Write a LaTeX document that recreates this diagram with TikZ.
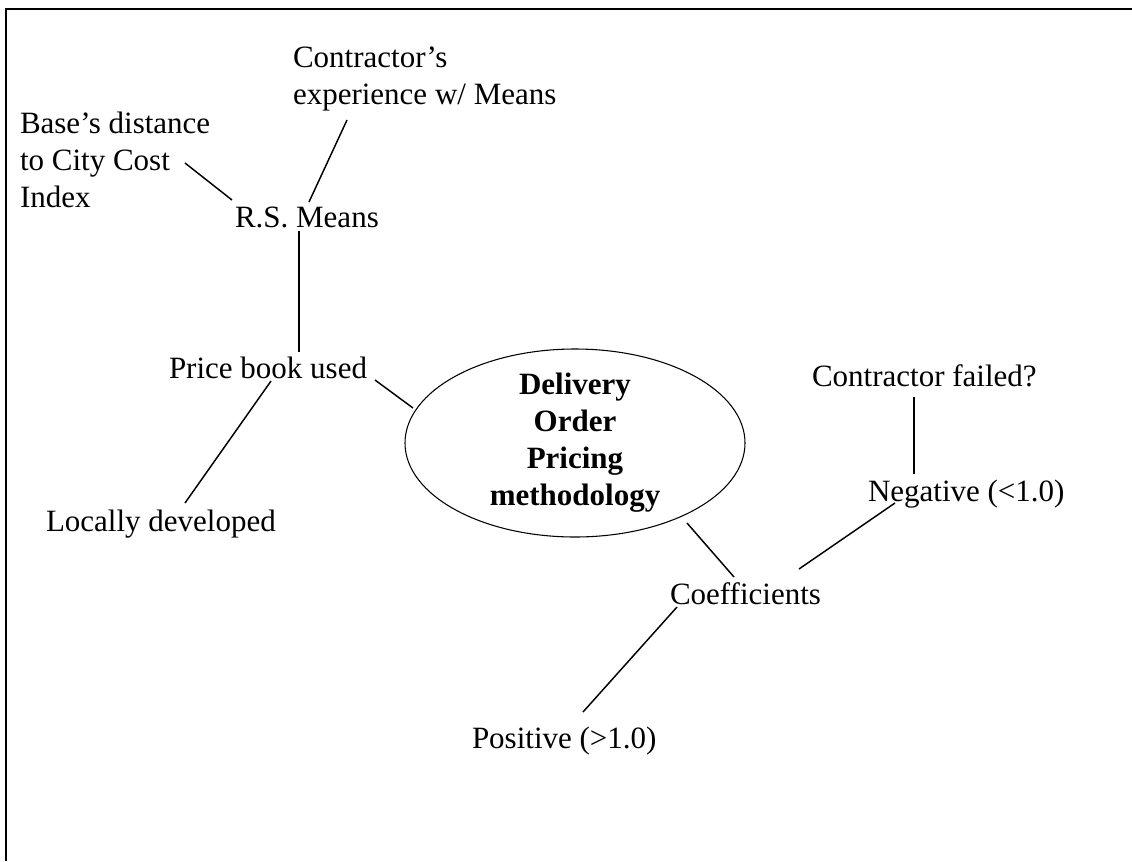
\documentclass[tikz,border=0pt]{standalone}
\usepackage{fontspec}
\setmainfont{Liberation Serif}
\usetikzlibrary{shapes.geometric,calc}
\begin{document}
\begin{tikzpicture}[x=0.75pt,y=-0.75pt,
  lbl/.style={inner sep=0pt, outer sep=0pt, font=\fontsize{23.25pt}{27.75pt}\selectfont},
  single/.style={lbl, anchor=base west},
  multi/.style={lbl, align=left, anchor=north west},
  hub/.style={draw, ellipse, line width=0.8pt, inner sep=0pt,
              minimum width=255pt, minimum height=141pt},
  hubtext/.style={lbl, align=center, font=\fontsize{23.25pt}{27.75pt}\selectfont\bfseries},
  link/.style={line width=1.1pt},
  frame/.style={line width=1.6pt}]
\useasboundingbox (0,0) rectangle (1132,861);
% page frame (top and left edges)
\draw[frame] (6,861) -- (6,9) -- (1132,9);

% nodes
\node[multi]  (exp)   at (293,46.5)  {Contractor’s\\experience w/ Means};
\node[multi]  (base)  at (20,111.5)  {Base’s distance\\to City Cost\\Index};
\node[single] (rs)    at (235,227)   {R.S. Means};
\node[single] (price) at (169,378)   {Price book used};
\node[single] (local) at (46,531)    {Locally developed};
\node[hub]    (hub)   at (575,443)   {};
\node[hubtext] (hubtxt) at (hub.center) {Delivery\\Order\\Pricing\\methodology};
\node[single] (fail)  at (812,386)   {Contractor failed?};
\node[single] (neg)   at (868,501)   {Negative (<1.0)};
\node[single] (coef)  at (670,604)   {Coefficients};
\node[single] (pos)   at (472,748)   {Positive (>1.0)};

% connectors
\draw[link] ($(base.north west)+(165,51.5)$) -- ($(rs.base west)+(-3,-27)$);
\draw[link] ($(exp.north west)+(54,73.5)$)   -- ($(rs.base west)+(74,-25)$);
\draw[link] ($(rs.base west)+(64,4)$)        -- ($(price.base west)+(130,-26)$);
\draw[link] ($(price.base west)+(206,2)$)    -- ($(hub.center)+(-162,-35)$);
\draw[link] ($(price.base west)+(102,3)$)    -- ($(local.base west)+(139,-28)$);
\draw[link] ($(hub.center)+(112,80)$)        -- ($(coef.base west)+(64,-27)$);
\draw[link] ($(fail.base west)+(102,11)$)    -- ($(neg.base west)+(46,-27)$);
\draw[link] ($(neg.base west)+(27,2)$)       -- ($(coef.base west)+(129,-35)$);
\draw[link] ($(coef.base west)+(7,3)$)       -- ($(pos.base west)+(111,-36)$);
\end{tikzpicture}
\end{document}
